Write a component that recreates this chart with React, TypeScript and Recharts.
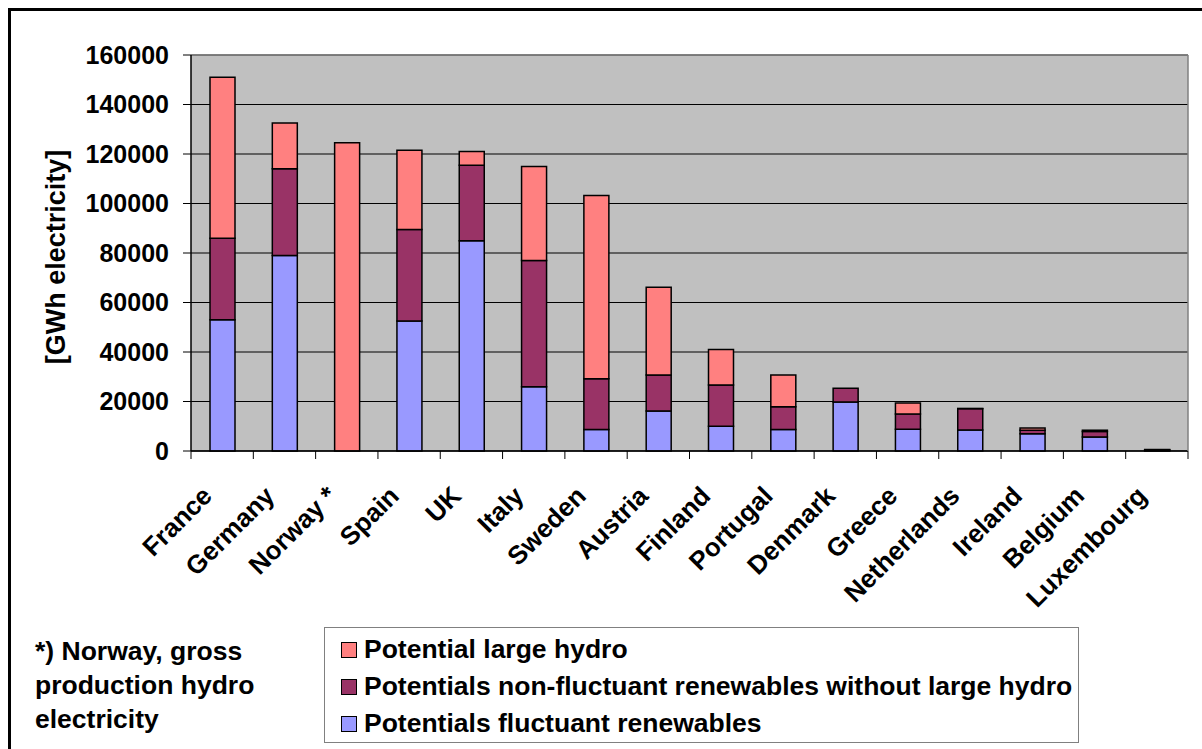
import React from "react";
import {
  BarChart,
  Bar,
  XAxis,
  YAxis,
  CartesianGrid,
  ReferenceLine,
  Label,
} from "recharts";

const countries = [
  "France", "Germany", "Norway *", "Spain", "UK", "Italy", "Sweden", "Austria",
  "Finland", "Portugal", "Denmark", "Greece", "Netherlands", "Ireland", "Belgium", "Luxembourg",
];
const fluctuant = [53000, 79000, 0, 52500, 85000, 26000, 8700, 16200, 10000, 8700, 19800, 8800, 8500, 7000, 5700, 200];
const nonFluctuant = [33000, 35000, 0, 37000, 30500, 51000, 20500, 14500, 16700, 9200, 5600, 6100, 8600, 1400, 2200, 300];
const largeHydro = [65000, 18500, 124500, 32000, 5500, 38000, 74000, 35500, 14300, 12800, 0, 4500, 100, 900, 500, 100];
const yTicks = [0, 20000, 40000, 60000, 80000, 100000, 120000, 140000, 160000];

const series = [
  { key: "largeHydro", name: "Potential large hydro", color: "#ff8080" },
  { key: "nonFluctuant", name: "Potentials non-fluctuant renewables without large hydro", color: "#993366" },
  { key: "fluctuant", name: "Potentials fluctuant renewables", color: "#9999ff" },
];

const data = countries.map((country, i) => ({
  country,
  fluctuant: fluctuant[i],
  nonFluctuant: nonFluctuant[i],
  largeHydro: largeHydro[i],
}));

const W = 1202;
const H = 749;
const FONT = "'Liberation Sans', Arial, sans-serif";
const PLOT_LEFT = 191;
const PLOT_RIGHT = 1188;
const BAND = (PLOT_RIGHT - PLOT_LEFT) / countries.length;
const X_AXIS_H = 60;

// category labels slanted at 45 degrees, with tick marks on the band edges
const CountryTick = (props: any) => {
  const { x, y, payload, index } = props;
  const top = y - 8;
  const isLast = index === countries.length - 1;
  return (
    <g>
      <line x1={x - BAND / 2} x2={x - BAND / 2} y1={top} y2={top + 8} stroke="#000" strokeWidth={1} />
      {isLast && <line x1={x + BAND / 2} x2={x + BAND / 2} y1={top} y2={top + 8} stroke="#000" strokeWidth={1} />}
      <text
        transform={`translate(${x - 15},${top + 40}) rotate(-45)`}
        textAnchor="end"
        dy="0.35em"
        fontFamily={FONT}
        fontWeight="bold"
        fontSize={26}
        fill="#000"
      >
        {payload.value}
      </text>
    </g>
  );
};

export default function App() {
  return (
    <div style={{ position: "relative", width: W, height: H, overflow: "hidden", background: "#fff", fontFamily: FONT }}>
      <style>{`body{margin:0}`}</style>
      <div
        style={{
          position: "absolute",
          left: 8,
          top: 8,
          width: W,
          height: H,
          border: "3px solid #000",
        }}
      />
      <div style={{ position: "absolute", left: 0, top: 0 }}>
        <BarChart
          width={W}
          height={H}
          data={data}
          margin={{ top: 55, right: 0, left: 0, bottom: H - 451 - X_AXIS_H }}
          barSize={25}
        >
          <CartesianGrid vertical={false} stroke="#000" strokeWidth={1} fill="#c0c0c0" fillOpacity={1} />
          <XAxis
            dataKey="country"
            interval={0}
            height={X_AXIS_H}
            tickLine={false}
            tickSize={8}
            tickMargin={0}
            axisLine={{ stroke: "#000", strokeWidth: 1.5 }}
            tick={<CountryTick />}
          />
          <YAxis
            width={PLOT_LEFT}
            domain={[0, 160000]}
            ticks={yTicks}
            interval={0}
            tickSize={8}
            tickMargin={14}
            tickLine={{ stroke: "#000" }}
            axisLine={{ stroke: "#000", strokeWidth: 1.5 }}
            tick={{ fill: "#000", fontSize: 25, fontWeight: "bold", fontFamily: FONT }}
          >
            <Label
              value="[GWh electricity]"
              angle={-90}
              position="center"
              dx={-40}
              dy={4}
              style={{ fill: "#000", fontSize: 27, fontWeight: "bold", fontFamily: FONT }}
            />
          </YAxis>
          <YAxis
            yAxisId="edge"
            orientation="right"
            width={W - PLOT_RIGHT}
            domain={[0, 160000]}
            tick={false}
            tickLine={false}
            axisLine={{ stroke: "#808080", strokeWidth: 1.5 }}
          />
          <ReferenceLine y={160000} stroke="#808080" strokeWidth={1.5} />
          <Bar dataKey="fluctuant" stackId="s" fill="#9999ff" stroke="#000" strokeWidth={1.5} isAnimationActive={false} />
          <Bar dataKey="nonFluctuant" stackId="s" fill="#993366" stroke="#000" strokeWidth={1.5} isAnimationActive={false} />
          <Bar dataKey="largeHydro" stackId="s" fill="#ff8080" stroke="#000" strokeWidth={1.5} isAnimationActive={false} />
        </BarChart>
      </div>

      {/* footnote for the Norway bar */}
      <div style={{ position: "absolute", left: 35, top: 634, fontSize: 26.5, fontWeight: "bold", lineHeight: "34px", color: "#000" }}>
        *) Norway, gross
        <br />
        production hydro
        <br />
        electricity
      </div>

      {/* legend */}
      <div
        style={{
          position: "absolute",
          left: 324,
          top: 627,
          width: 755,
          height: 116,
          border: "1px solid #808080",
          boxSizing: "border-box",
          background: "#fff",
          paddingTop: 3,
        }}
      >
        {series.map((s) => (
          <div key={s.key} style={{ display: "flex", alignItems: "center", height: 37, fontSize: 26.5, fontWeight: "bold", color: "#000", whiteSpace: "nowrap" }}>
            <span
              style={{
                display: "inline-block",
                width: 14,
                height: 14,
                marginLeft: 16,
                marginRight: 7,
                background: s.color,
                border: "1.5px solid #000",
              }}
            />
            {s.name}
          </div>
        ))}
      </div>
    </div>
  );
}
